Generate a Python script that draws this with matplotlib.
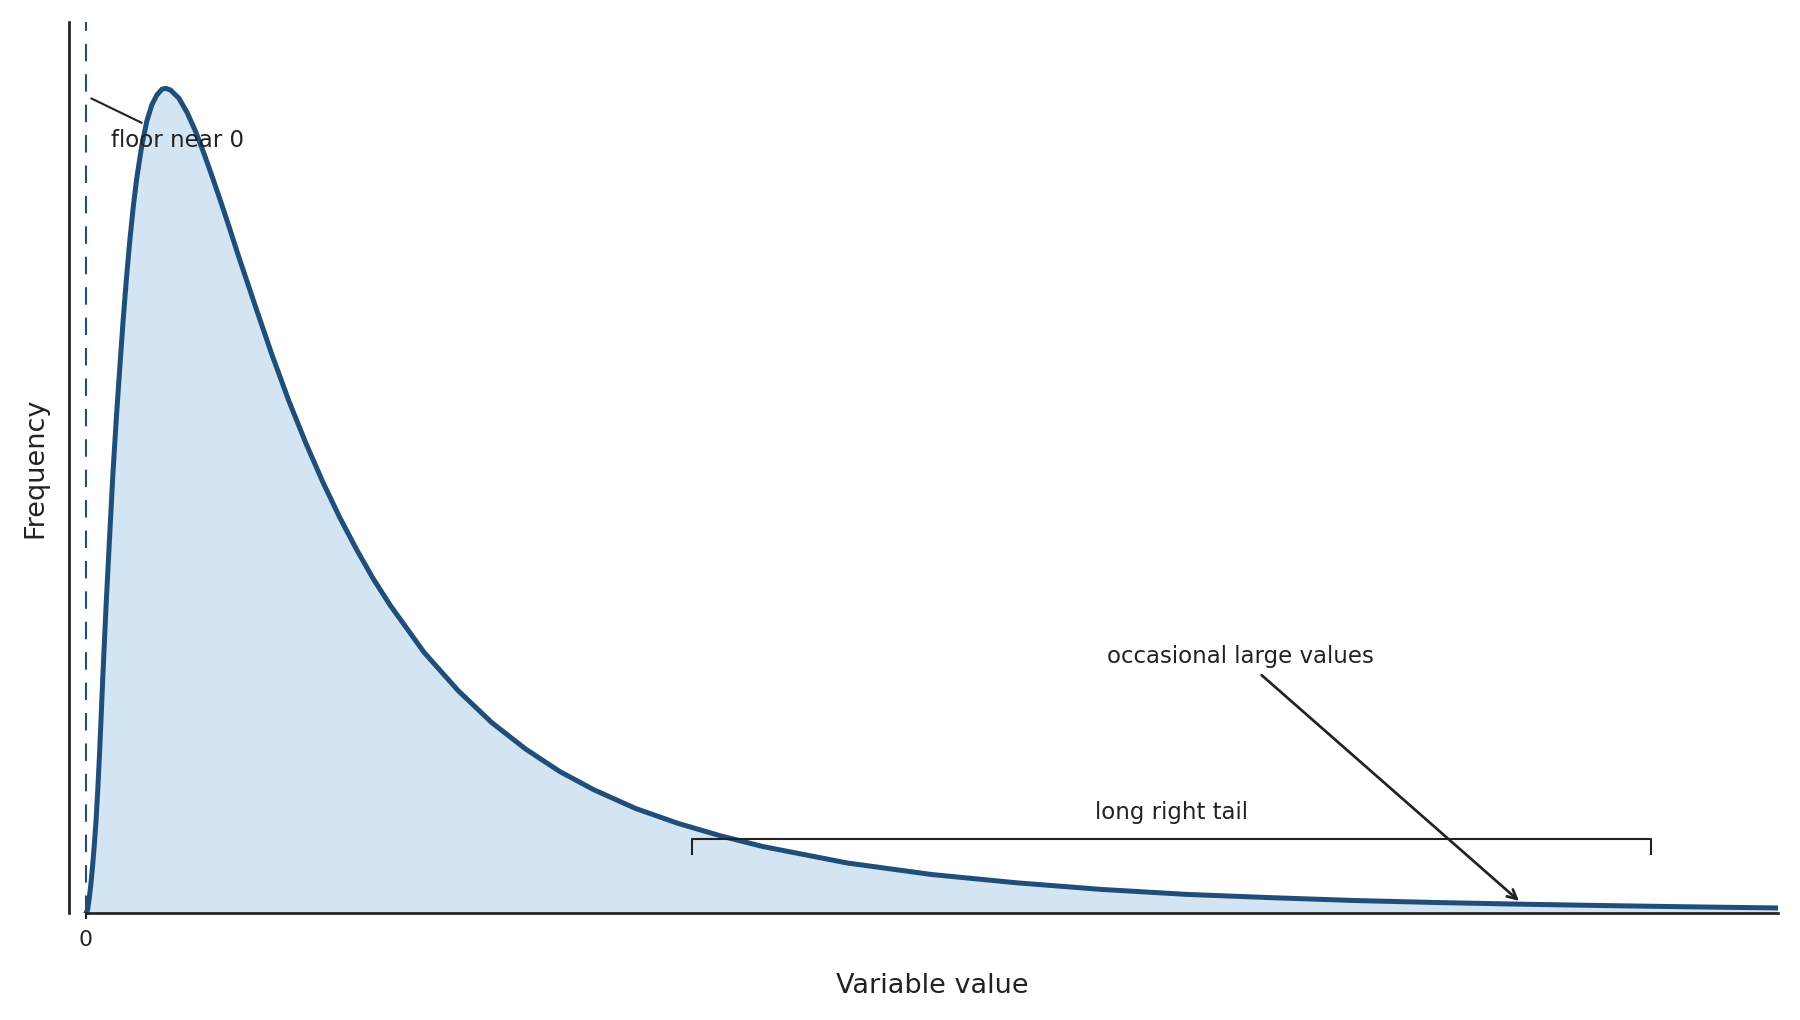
import matplotlib
matplotlib.use("Agg")
import matplotlib.pyplot as plt

# curve (peak scaled to 1)
xs = [0.000, 0.010, 0.020, 0.030, 0.040, 0.050, 0.060, 0.070, 0.080, 0.090,
      0.100, 0.120, 0.140, 0.160, 0.180, 0.200, 0.220, 0.240, 0.260, 0.280,
      0.300, 0.330, 0.360, 0.390, 0.420, 0.450, 0.472, 0.500, 0.550, 0.600,
      0.650, 0.700, 0.750, 0.800, 0.850, 0.900, 1.000, 1.100, 1.200, 1.300,
      1.400, 1.500, 1.600, 1.700, 1.800, 2.000, 2.200, 2.400, 2.600, 2.800,
      3.000, 3.250, 3.500, 3.750, 4.000, 4.500, 5.000, 5.500, 6.000, 6.500,
      7.000, 7.500, 8.000, 8.500, 9.000, 9.500, 10.000]
ys = [0.000, 0.004, 0.018, 0.036, 0.058, 0.083, 0.112, 0.148, 0.190, 0.237,
      0.286, 0.375, 0.455, 0.533, 0.600, 0.660, 0.718, 0.770, 0.816, 0.856,
      0.890, 0.930, 0.960, 0.980, 0.992, 0.999, 1.000, 0.998, 0.988, 0.970,
      0.947, 0.920, 0.891, 0.861, 0.830, 0.798, 0.737, 0.677, 0.621, 0.570,
      0.523, 0.480, 0.441, 0.405, 0.373, 0.316, 0.270, 0.231, 0.199, 0.172,
      0.150, 0.127, 0.109, 0.094, 0.081, 0.061, 0.047, 0.037, 0.029, 0.023,
      0.019, 0.0155, 0.013, 0.011, 0.0093, 0.0078, 0.0065]

tail_start, tail_end = 3.58, 9.25
line_col = "#1f4e79"
fill_col = "#d3e4f2"
ink = "#222222"

fig = plt.figure(figsize=(12, 6.8), dpi=150)
ax = fig.add_axes([0.0383, 0.1046, 0.9494, 0.8735])

ax.fill_between(xs, ys, 0, color=fill_col, lw=0)
ax.plot(xs, ys, color=line_col, lw=2.4, solid_joinstyle="round")
ax.axvline(0, color=line_col, lw=1.0, dashes=(8.4, 6.2))

ax.set_xlim(-0.1, 10)
ax.set_ylim(0, 1.08)

for s in ["top", "right"]:
    ax.spines[s].set_visible(False)
for s in ["left", "bottom"]:
    ax.spines[s].set_color(ink)
    ax.spines[s].set_linewidth(1.3)
ax.spines["bottom"].set_bounds(0, 10)

ax.set_xticks([0])
ax.set_xticklabels(["0"])
ax.set_yticks([])
ax.tick_params(axis="x", length=3, width=1.0, color=ink, labelcolor=ink,
               labelsize=10.5, pad=5)

ax.set_xlabel("Variable value", fontsize=13, color=ink, labelpad=11, x=0.505)
ax.set_ylabel("Frequency", fontsize=13, color=ink, labelpad=10)

# annotations
ax.annotate("floor near 0", xy=(0.01, 0.99), xytext=(0.15, 0.937),
            ha="left", va="center", fontsize=11, color=ink,
            arrowprops=dict(arrowstyle="-", color=ink, lw=1.0))

ax.annotate("occasional large values", xy=(8.47, 0.015), xytext=(6.825, 0.311),
            ha="center", va="center", fontsize=11, color=ink,
            arrowprops=dict(arrowstyle="->", color=ink, lw=1.3, shrinkB=0))

ax.plot([tail_start, tail_start, tail_end, tail_end],
        [0.072, 0.090, 0.090, 0.072], color=ink, lw=1.0)
ax.text((tail_start + tail_end) / 2, 0.108, "long right tail",
        ha="center", va="bottom", fontsize=11, color=ink)

fig.savefig("out.png", dpi=150)
